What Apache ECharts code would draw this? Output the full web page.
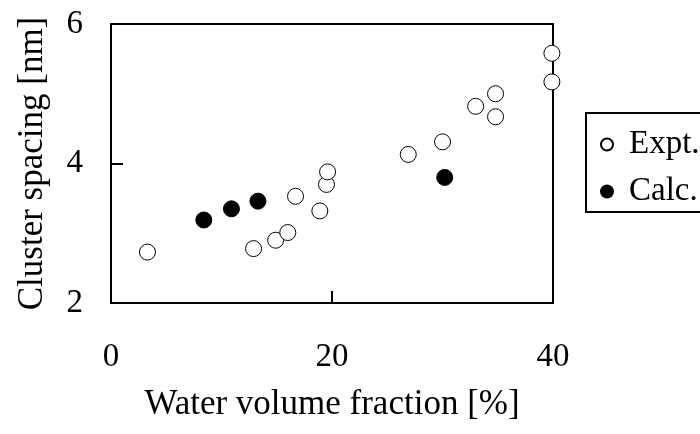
<!DOCTYPE html>
<html>
<head>
<meta charset="utf-8">
<script src="https://cdn.jsdelivr.net/npm/echarts@6/dist/echarts.min.js"></script>
<style>
html,body{margin:0;padding:0;background:#fff;}
#chart{width:700px;height:434px;}
</style>
</head>
<body>
<div id="chart"></div>
<script>
const exptX = [3.3, 12.9, 14.9, 16.0, 16.7, 18.9, 19.5, 19.6, 26.9, 30.0, 33.0, 34.8, 34.8, 39.9, 39.9];
const exptY = [2.73, 2.78, 2.90, 3.01, 3.53, 3.32, 3.70, 3.88, 4.13, 4.31, 4.82, 5.00, 4.67, 5.58, 5.17];
const calcX = [8.4, 10.9, 13.3, 30.2];
const calcY = [3.19, 3.35, 3.46, 3.80];
const xTicks = [0, 20, 40];
const yTicks = [2, 4, 6];
const seriesNames = ['Expt.', 'Calc.'];
const xTitle = 'Water volume fraction [%]';
const yTitle = 'Cluster spacing [nm]';

const FONT = '"Liberation Serif", "Times New Roman", serif';
const chart = echarts.init(document.getElementById('chart'), null, {renderer: 'canvas'});
const zip = (a, b) => a.map((v, i) => [v, b[i]]);

chart.setOption({
  backgroundColor: '#fff',
  animation: false,
  textStyle: {fontFamily: FONT, color: '#000'},
  grid: {left: 111, right: 147, top: 24, bottom: 131, show: true, borderColor: '#000', borderWidth: 2, backgroundColor: 'transparent'},
  legend: {
    orient: 'vertical',
    left: 586, top: 113,
    data: seriesNames,
    itemWidth: 12, itemHeight: 12, itemGap: 14,
    padding: [15, 20, 4, 14],
    borderColor: '#000', borderWidth: 2,
    textStyle: {fontFamily: FONT, fontSize: 33, color: '#000', padding: [0, 0, 0, 11]}
  },
  xAxis: {
    type: 'value', min: xTicks[0], max: xTicks[xTicks.length - 1], interval: 20,
    name: xTitle, nameLocation: 'middle', nameGap: 84,
    nameTextStyle: {fontFamily: FONT, fontSize: 35, color: '#000'},
    axisLine: {show: true, lineStyle: {color: '#000', width: 2}},
    axisTick: {show: true, inside: true, length: 12, lineStyle: {color: '#000', width: 2}},
    axisLabel: {fontFamily: FONT, fontSize: 33, color: '#000', margin: 38},
    splitLine: {show: false}
  },
  yAxis: {
    type: 'value', min: yTicks[0], max: yTicks[yTicks.length - 1], interval: 2,
    name: yTitle, nameLocation: 'middle', nameGap: 61, nameRotate: 90,
    nameTextStyle: {fontFamily: FONT, fontSize: 35, color: '#000'},
    axisLine: {show: true, lineStyle: {color: '#000', width: 2}},
    axisTick: {show: true, inside: true, length: 12, lineStyle: {color: '#000', width: 2}},
    axisLabel: {fontFamily: FONT, fontSize: 33, color: '#000', margin: 28},
    splitLine: {show: false}
  },
  series: [
    {
      name: seriesNames[0], type: 'scatter', symbol: 'circle', symbolSize: 16,
      data: zip(exptX, exptY),
      itemStyle: {color: '#fff', borderColor: '#000', borderWidth: 1, opacity: 1},
      z: 3
    },
    {
      name: seriesNames[1], type: 'scatter', symbol: 'circle', symbolSize: 16,
      data: zip(calcX, calcY),
      itemStyle: {color: '#000', borderColor: '#000', borderWidth: 1, opacity: 1},
      z: 4
    }
  ]
});
</script>
</body>
</html>
